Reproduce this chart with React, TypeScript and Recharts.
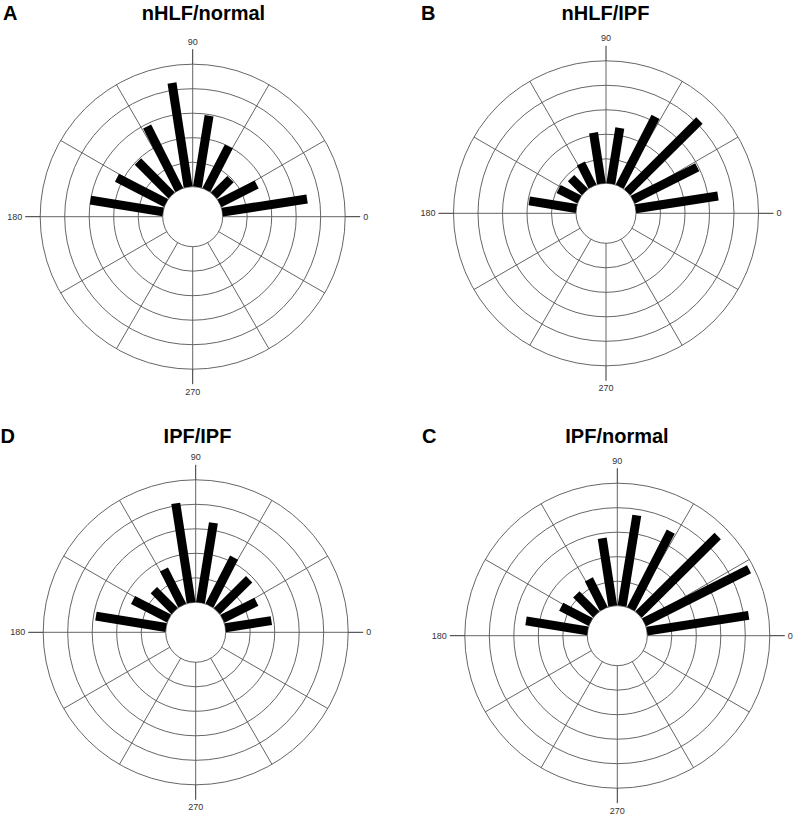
import { RadialBarChart, RadialBar, PolarGrid, PolarAngleAxis, PolarRadiusAxis } from "recharts";

// lower edge (deg) of each 18 degree orientation bin, counter-clockwise from 0 (east).
// The list starts at 342 so that the band layout of the angle axis puts bin "0" at 0-18 deg.
const binStarts = [342, 0, 18, 36, 54, 72, 90, 108, 126, 144, 162, 180, 198, 216, 234, 252, 270, 288, 306, 324];

// bar lengths in ring units (each grid ring = 1), same order as binStarts
const nhlfNormal = [0, 3.5, 1.7, 0.95, 2.0, 2.95, 4.3, 2.9, 1.95, 2.25, 3.0, 0, 0, 0, 0, 0, 0, 0, 0, 0];
const nhlfIpf = [0, 3.4, 2.95, 4.15, 3.2, 2.3, 2.1, 1.05, 0.8, 0.95, 1.95, 0, 0, 0, 0, 0, 0, 0, 0, 0];
const ipfIpf = [0, 1.9, 1.55, 1.85, 2.2, 3.3, 4.1, 1.65, 1.2, 1.65, 2.9, 0, 0, 0, 0, 0, 0, 0, 0, 0];
const ipfNormal = [0, 4.2, 4.8, 4.55, 3.55, 3.75, 2.8, 1.35, 1.15, 1.35, 2.55, 0, 0, 0, 0, 0, 0, 0, 0, 0];

const ringTicks = [0, 1, 2, 3, 4, 5];
const gridAngles = [0, 30, 60, 90, 120, 150, 180, 210, 240, 270, 300, 330];
const axisLabels = [0, 90, 180, 270];

const FONT = "Arial, 'Liberation Sans', Helvetica, sans-serif";
const BAR_WIDTH = 9;
const GRID = "#555";
const TICK = 15;

function BarRect(props: any) {
  const { cx, cy, innerRadius, outerRadius, startAngle, endAngle } = props;
  if (!(outerRadius > innerRadius)) return null;
  const mid = (((startAngle + endAngle) / 2) * Math.PI) / 180;
  const ux = Math.cos(mid);
  const uy = -Math.sin(mid);
  const px = (-uy * BAR_WIDTH) / 2;
  const py = (ux * BAR_WIDTH) / 2;
  const x1 = cx + ux * innerRadius;
  const y1 = cy + uy * innerRadius;
  const x2 = cx + ux * outerRadius;
  const y2 = cy + uy * outerRadius;
  const pts = [
    [x1 + px, y1 + py],
    [x2 + px, y2 + py],
    [x2 - px, y2 - py],
    [x1 - px, y1 - py],
  ];
  return <polygon points={pts.map((p) => p.join(",")).join(" ")} fill="#000" />;
}

// draws the axis extension line and the label for the 0/90/180/270 ticks only
function AxisTick(props: any) {
  const { x, y, payload } = props;
  if (!axisLabels.includes(Number(payload.value))) return <g />;
  const a = (payload.coordinate * Math.PI) / 180;
  const c = Math.cos(a);
  const s = Math.sin(a);
  const anchor = Math.abs(c) < 0.1 ? "middle" : c > 0 ? "start" : "end";
  return (
    <g>
      <line x1={x - c * TICK} y1={y + s * TICK} x2={x} y2={y} stroke="#333" strokeWidth={1} />
      <text
        x={x + c * 3}
        y={y - s * 7.5}
        textAnchor={anchor}
        dominantBaseline="central"
        fontSize={9}
        fontFamily={FONT}
        fill="#333"
      >
        {payload.value}
      </text>
    </g>
  );
}

function RosePanel({ values, cx, cy }: { values: number[]; cx: number; cy: number }) {
  const data = binStarts.map((bin, i) => ({ bin, value: values[i] }));
  return (
    <RadialBarChart
      width={400}
      height={408}
      data={data}
      layout="centric"
      cx={cx}
      cy={cy}
      innerRadius={30}
      outerRadius={152.5}
      startAngle={0}
      endAngle={360}
      margin={{ top: 0, right: 0, bottom: 0, left: 0 }}
    >
      <PolarGrid gridType="circle" polarAngles={gridAngles} stroke={GRID} strokeWidth={0.9} />
      <PolarAngleAxis
        dataKey="bin"
        type="category"
        tickSize={TICK}
        tickLine={false}
        axisLine={false}
        tick={(p: any) => <AxisTick {...p} />}
      />
      <PolarRadiusAxis type="number" domain={[0, 5]} ticks={ringTicks} tick={false} axisLine={false} />
      <RadialBar dataKey="value" isAnimationActive={false} shape={(p: any) => <BarRect {...p} />} />
    </RadialBarChart>
  );
}

const titleStyle = { fontFamily: FONT, fontSize: 20, fontWeight: 700, fill: "#000" } as const;

export default function App() {
  return (
    <div style={{ position: "absolute", left: 0, top: 0, width: 800, height: 816, background: "#fff" }}>
      <div style={{ position: "absolute", left: 0, top: 0 }}>
        <RosePanel values={nhlfNormal} cx={192.7} cy={216.7} />
      </div>
      <div style={{ position: "absolute", left: 400, top: 0 }}>
        <RosePanel values={nhlfIpf} cx={206} cy={213.3} />
      </div>
      <div style={{ position: "absolute", left: 0, top: 410 }}>
        <RosePanel values={ipfIpf} cx={195.7} cy={222.3} />
      </div>
      <div style={{ position: "absolute", left: 400, top: 410 }}>
        <RosePanel values={ipfNormal} cx={217.3} cy={225.7} />
      </div>
      <svg width={800} height={816} style={{ position: "absolute", left: 0, top: 0, pointerEvents: "none" }}>
        <text x={3} y={20} {...titleStyle}>A</text>
        <text x={203.5} y={20} textAnchor="middle" {...titleStyle}>nHLF/normal</text>
        <text x={421} y={20} {...titleStyle}>B</text>
        <text x={605.5} y={20} textAnchor="middle" {...titleStyle}>nHLF/IPF</text>
        <text x={0.5} y={443} {...titleStyle}>D</text>
        <text x={197.5} y={443} textAnchor="middle" {...titleStyle}>IPF/IPF</text>
        <text x={422} y={443} {...titleStyle}>C</text>
        <text x={617} y={443} textAnchor="middle" {...titleStyle}>IPF/normal</text>
      </svg>
    </div>
  );
}
